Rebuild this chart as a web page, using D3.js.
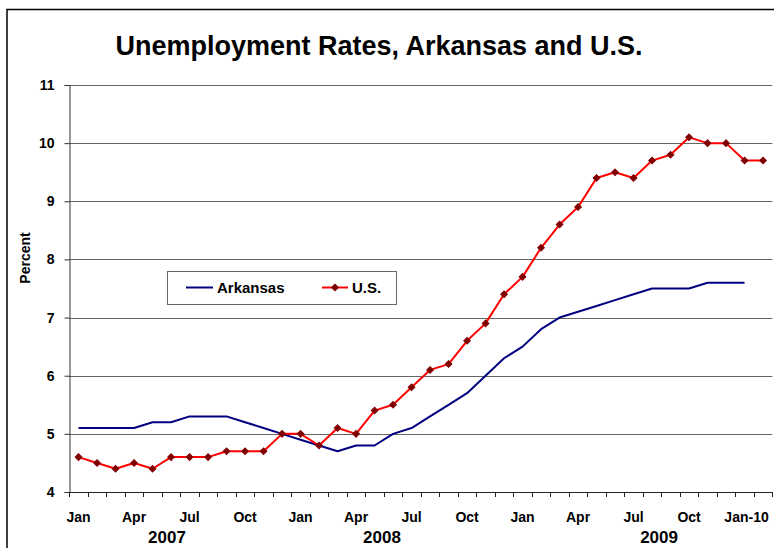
<!DOCTYPE html>
<html>
<head>
<meta charset="utf-8">
<script src="https://cdn.jsdelivr.net/npm/d3@7"></script>
<style>
  html, body { margin: 0; padding: 0; background: #fff; }
  svg { display: block; font-family: "Liberation Sans", Arial, sans-serif; }
</style>
</head>
<body>
<svg id="chart" width="774" height="548"></svg>
<script>
// ---- data ----
const months = [
  "Jan-07","Feb-07","Mar-07","Apr-07","May-07","Jun-07","Jul-07","Aug-07","Sep-07","Oct-07","Nov-07","Dec-07",
  "Jan-08","Feb-08","Mar-08","Apr-08","May-08","Jun-08","Jul-08","Aug-08","Sep-08","Oct-08","Nov-08","Dec-08",
  "Jan-09","Feb-09","Mar-09","Apr-09","May-09","Jun-09","Jul-09","Aug-09","Sep-09","Oct-09","Nov-09","Dec-09",
  "Jan-10","Feb-10"
];
const arkansas = [
  5.1,5.1,5.1,5.1,5.2,5.2,5.3,5.3,5.3,5.2,5.1,5.0,
  4.9,4.8,4.7,4.8,4.8,5.0,5.1,5.3,5.5,5.7,6.0,6.3,
  6.5,6.8,7.0,7.1,7.2,7.3,7.4,7.5,7.5,7.5,7.6,7.6,
  7.6
];
const us = [
  4.6,4.5,4.4,4.5,4.4,4.6,4.6,4.6,4.7,4.7,4.7,5.0,
  5.0,4.8,5.1,5.0,5.4,5.5,5.8,6.1,6.2,6.6,6.9,7.4,
  7.7,8.2,8.6,8.9,9.4,9.5,9.4,9.7,9.8,10.1,10.0,10.0,
  9.7,9.7
];
const tickMonths = ["Jan-07","Apr-07","Jul-07","Oct-07","Jan-08","Apr-08","Jul-08","Oct-08","Jan-09","Apr-09","Jul-09","Oct-09","Jan-10"];
const tickLabels = ["Jan","Apr","Jul","Oct","Jan","Apr","Jul","Oct","Jan","Apr","Jul","Oct","Jan-10"];
const years = ["2007","2008","2009"];
const yTicks = [4,5,6,7,8,9,10,11];
const seriesNames = ["Arkansas","U.S."];
const chartTitle = "Unemployment Rates, Arkansas and U.S.";
const yTitle = "Percent";

(function draw() {
  const svg = d3.select("#chart");
  const pL = 69.3, pR = 772.3, pT = 85, pB = 492;
  const x = d3.scaleBand().domain(months).range([pL, pR]).padding(0);
  const cx = m => x(m) + x.bandwidth() / 2;
  const y = d3.scaleLinear().domain([4, 11]).range([pB, pT]);

  // outer border
  svg.append("rect").attr("x", 7).attr("y", 9.5).attr("width", 820).attr("height", 620)
    .attr("fill", "none").attr("stroke", "#000").attr("stroke-width", 1.5);

  // title
  svg.append("text").attr("x", 379).attr("y", 55).attr("text-anchor", "middle")
    .attr("font-size", 27).attr("font-weight", "bold").text(chartTitle);

  // gridlines
  svg.append("g").selectAll("line").data(yTicks.filter(d => d > 4)).join("line")
    .attr("x1", pL).attr("x2", pR)
    .attr("y1", d => Math.round(y(d)) + 0.5).attr("y2", d => Math.round(y(d)) + 0.5)
    .attr("stroke", "#666").attr("stroke-width", 1);

  // y axis
  const yAxis = d3.axisLeft(y).tickValues(yTicks).tickSize(5).tickPadding(10).tickFormat(d3.format("d"));
  const gy = svg.append("g").attr("transform", `translate(${Math.round(pL) + 0.5},0)`).call(yAxis);
  gy.select(".domain").attr("stroke", "#333");
  gy.selectAll(".tick line").attr("stroke", "#333");
  gy.selectAll(".tick text").attr("font-size", 14).attr("font-weight", "bold")
    .attr("font-family", "Liberation Sans, Arial, sans-serif").attr("fill", "#000");

  // x axis line and ticks at band boundaries
  svg.append("line").attr("x1", pL).attr("x2", pR)
    .attr("y1", Math.round(pB) + 0.5).attr("y2", Math.round(pB) + 0.5)
    .attr("stroke", "#222");
  const boundaries = months.map(m => x(m)).concat([pR]);
  svg.append("g").selectAll("line").data(boundaries).join("line")
    .attr("x1", d => Math.round(d) + 0.5).attr("x2", d => Math.round(d) + 0.5)
    .attr("y1", pB).attr("y2", pB + 5).attr("stroke", "#222");

  // x tick labels
  svg.append("g").selectAll("text").data(tickMonths).join("text")
    .attr("x", d => cx(d) + (d === "Jan-10" ? 2 : 0)).attr("y", 522)
    .attr("text-anchor", "middle").attr("font-size", 14).attr("font-weight", "bold")
    .text((d, i) => tickLabels[i]);

  // year labels (group labels)
  const yearAnchor = { "2007": ["Jun-07", 0.28], "2008": ["May-08", 0.9], "2009": ["Aug-09", 0.88] };
  svg.append("g").selectAll("text").data(years).join("text")
    .attr("x", d => x(yearAnchor[d][0]) + x.bandwidth() * yearAnchor[d][1])
    .attr("y", 543).attr("text-anchor", "middle").attr("font-size", 17).attr("font-weight", "bold")
    .text(d => d);

  // y title
  svg.append("text").attr("transform", "translate(30,258) rotate(-90)")
    .attr("text-anchor", "middle").attr("font-size", 14).attr("font-weight", "bold").text(yTitle);

  // lines
  const line = d3.line().x(d => cx(d.m)).y(d => y(d.v));
  const arData = arkansas.map((v, i) => ({ m: months[i], v }));
  const usData = us.map((v, i) => ({ m: months[i], v }));
  svg.append("path").datum(arData).attr("d", line).attr("fill", "none")
    .attr("stroke", "#000080").attr("stroke-width", 2).attr("stroke-linejoin", "round");
  svg.append("path").datum(usData).attr("d", line).attr("fill", "none")
    .attr("stroke", "#FF0000").attr("stroke-width", 2).attr("stroke-linejoin", "round");
  const diamond = d3.symbol().type(d3.symbolSquare).size(22);
  svg.append("g").selectAll("path").data(usData).join("path")
    .attr("transform", d => `translate(${cx(d.m)},${y(d.v)}) rotate(45)`).attr("d", diamond)
    .attr("fill", "#800000").attr("stroke", "#800000").attr("stroke-width", 1);

  // legend
  const lg = svg.append("g");
  lg.append("rect").attr("x", 167.5).attr("y", 271.5).attr("width", 229).attr("height", 33)
    .attr("fill", "#fff").attr("stroke", "#666").attr("stroke-width", 1);
  lg.append("line").attr("x1", 186).attr("x2", 213).attr("y1", 287.5).attr("y2", 287.5)
    .attr("stroke", "#000080").attr("stroke-width", 2);
  lg.append("text").attr("x", 217).attr("y", 293).attr("font-size", 15).attr("font-weight", "bold").text(seriesNames[0]);
  lg.append("line").attr("x1", 322).attr("x2", 348).attr("y1", 287.5).attr("y2", 287.5)
    .attr("stroke", "#FF0000").attr("stroke-width", 2);
  lg.append("path").attr("transform", "translate(335,287.5) rotate(45)").attr("d", diamond)
    .attr("fill", "#800000").attr("stroke", "#800000").attr("stroke-width", 1);
  lg.append("text").attr("x", 352).attr("y", 293).attr("font-size", 15).attr("font-weight", "bold").text(seriesNames[1]);
})();
</script>
</body>
</html>
